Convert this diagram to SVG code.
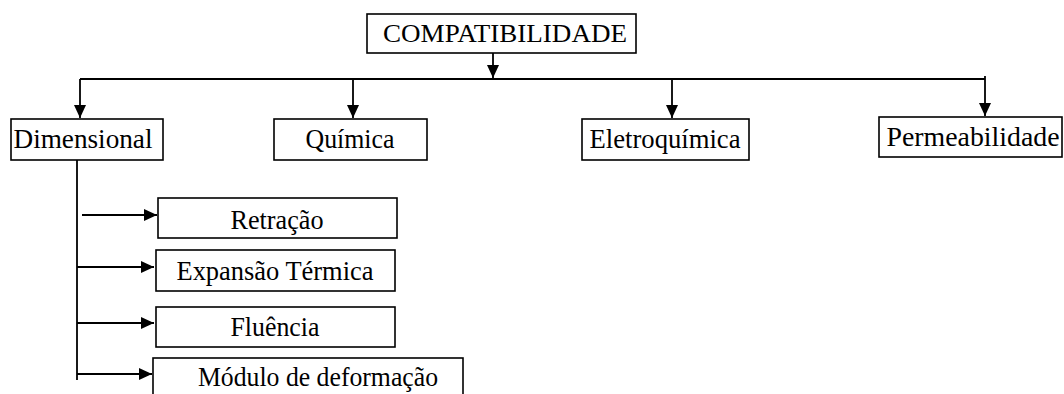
<svg xmlns="http://www.w3.org/2000/svg" width="1064" height="394" viewBox="0 0 1064 394">
<style>
.box{fill:#fff;stroke:#000;stroke-width:1.6}
.t{font-family:"Liberation Serif","Times New Roman",serif;font-size:27px;fill:#000;text-anchor:middle}
.c{fill:none;stroke:#000;stroke-width:1.8}
</style>
<defs>
<marker id="ah" markerUnits="userSpaceOnUse" markerWidth="14" markerHeight="12" refX="13" refY="6" orient="auto">
<path d="M0,0 L13,6 L0,12 Z" fill="#000"/>
</marker>
</defs>
<g id="connectors">
<path class="c" d="M493,53 V78" marker-end="url(#ah)"/>
<path class="c" d="M80,79 H985"/>
<path class="c" d="M80,79 V118" marker-end="url(#ah)"/>
<path class="c" d="M353,79 V118" marker-end="url(#ah)"/>
<path class="c" d="M672,79 V118" marker-end="url(#ah)"/>
<path class="c" d="M985,76 V116" marker-end="url(#ah)"/>
<path class="c" d="M77,160 V380"/>
<path class="c" d="M82,215 H157" marker-end="url(#ah)"/>
<path class="c" d="M77,267 H154" marker-end="url(#ah)"/>
<path class="c" d="M77,323 H154" marker-end="url(#ah)"/>
<path class="c" d="M77,374 H152" marker-end="url(#ah)"/>
</g>
<g id="compatibilidade">
<rect class="box" x="367" y="14" width="269" height="39"/>
<text class="t" x="505" y="42" style="font-size:25px" textLength="244" lengthAdjust="spacingAndGlyphs">COMPATIBILIDADE</text>
</g>
<g id="dimensional">
<rect class="box" x="11" y="119" width="152" height="41"/>
<text class="t" x="83" y="148" textLength="139" lengthAdjust="spacingAndGlyphs">Dimensional</text>
</g>
<g id="quimica">
<rect class="box" x="274" y="119" width="153" height="41"/>
<text class="t" x="350" y="148" textLength="89" lengthAdjust="spacingAndGlyphs">Química</text>
</g>
<g id="eletroquimica">
<rect class="box" x="582" y="119" width="167" height="41"/>
<text class="t" x="665" y="148" textLength="151" lengthAdjust="spacingAndGlyphs">Eletroquímica</text>
</g>
<g id="permeabilidade">
<rect class="box" x="879" y="117" width="183" height="40"/>
<text class="t" x="973" y="146" textLength="173" lengthAdjust="spacingAndGlyphs">Permeabilidade</text>
</g>
<g id="retracao">
<rect class="box" x="158" y="198" width="239" height="40"/>
<text class="t" x="277" y="229" textLength="93" lengthAdjust="spacingAndGlyphs">Retração</text>
</g>
<g id="expansao">
<rect class="box" x="156" y="250" width="239" height="41"/>
<text class="t" x="275" y="280" textLength="197" lengthAdjust="spacingAndGlyphs">Expansão Térmica</text>
</g>
<g id="fluencia">
<rect class="box" x="156" y="307" width="239" height="40"/>
<text class="t" x="275" y="336" textLength="89" lengthAdjust="spacingAndGlyphs">Fluência</text>
</g>
<g id="modulo">
<rect class="box" x="153" y="358" width="310" height="50"/>
<text class="t" x="318" y="386" textLength="240" lengthAdjust="spacingAndGlyphs">Módulo de deformação</text>
</g>
</svg>
